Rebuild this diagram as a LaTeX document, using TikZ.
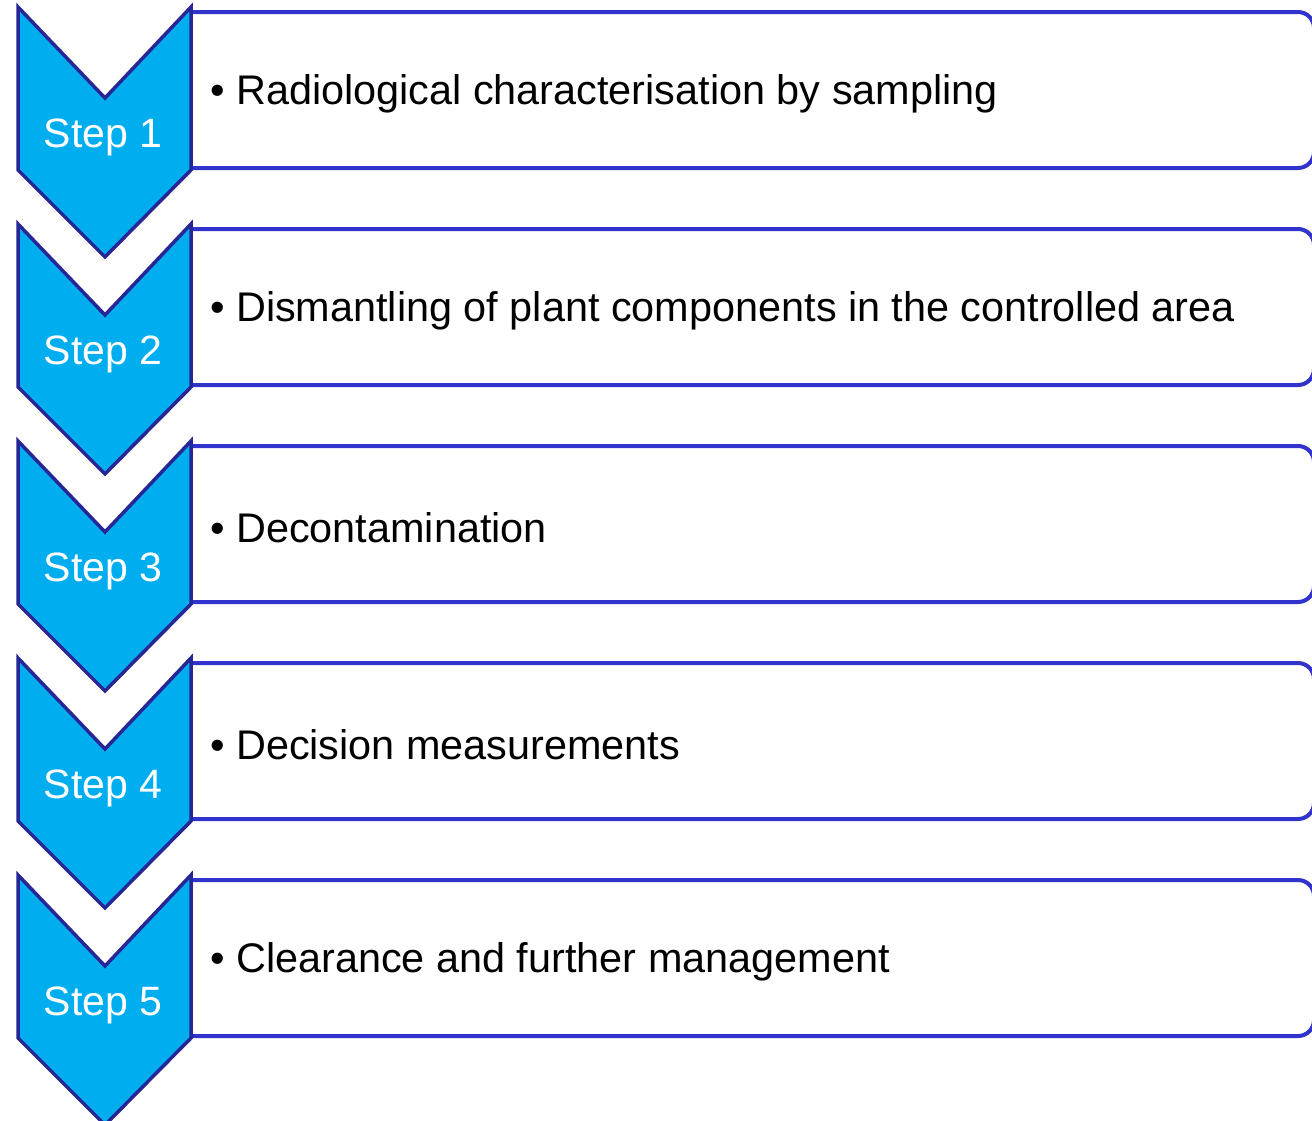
\documentclass[tikz,border=0pt]{standalone}
\usepackage{fontspec}
\setmainfont{Liberation Sans}
\definecolor{chevfill}{RGB}{0,174,239}
\definecolor{chevdraw}{RGB}{38,38,150}
\definecolor{boxdraw}{RGB}{50,50,205}
\tikzset{
  chevshape/.style={fill=chevfill, draw=chevdraw, line width=3.5pt, line join=miter},
  boxshape/.style={draw=boxdraw, line width=4pt, rounded corners=16pt},
  steplabel/.style={text=white, inner sep=0pt, font=\fontsize{41}{49}\selectfont},
  itemtext/.style={text=black, inner sep=0pt, anchor=west, font=\fontsize{41.4}{49}\selectfont}
}
\begin{document}
\begin{tikzpicture}[x=1pt,y=-1pt]
\useasboundingbox (0,0) rectangle (1312,1120);
\fill[white] (0,0) rectangle (1312,1120);
\foreach \i/\t [evaluate=\i as \o using 217*(\i-1)] in {
  1/{Radiological characterisation by sampling},
  2/{Dismantling of plant components in the controlled area},
  3/{Decontamination},
  4/{Decision measurements},
  5/{Clearance and further management}} {
  \draw[boxshape] (190,12+\o) -- (1314,12+\o) -- (1314,168+\o) -- (190,168+\o);
  \draw[chevshape] (18,7+\o) -- (105,98+\o) -- (191,7+\o) -- (191,170+\o) -- (105,257+\o) -- (18,170+\o) -- cycle;
  \node[steplabel] (step\i) at (103,137+\o) {Step \i};
  \node[itemtext] (item\i) at (210,94+\o) {\textbullet\ \t};
}
\end{tikzpicture}
\end{document}
